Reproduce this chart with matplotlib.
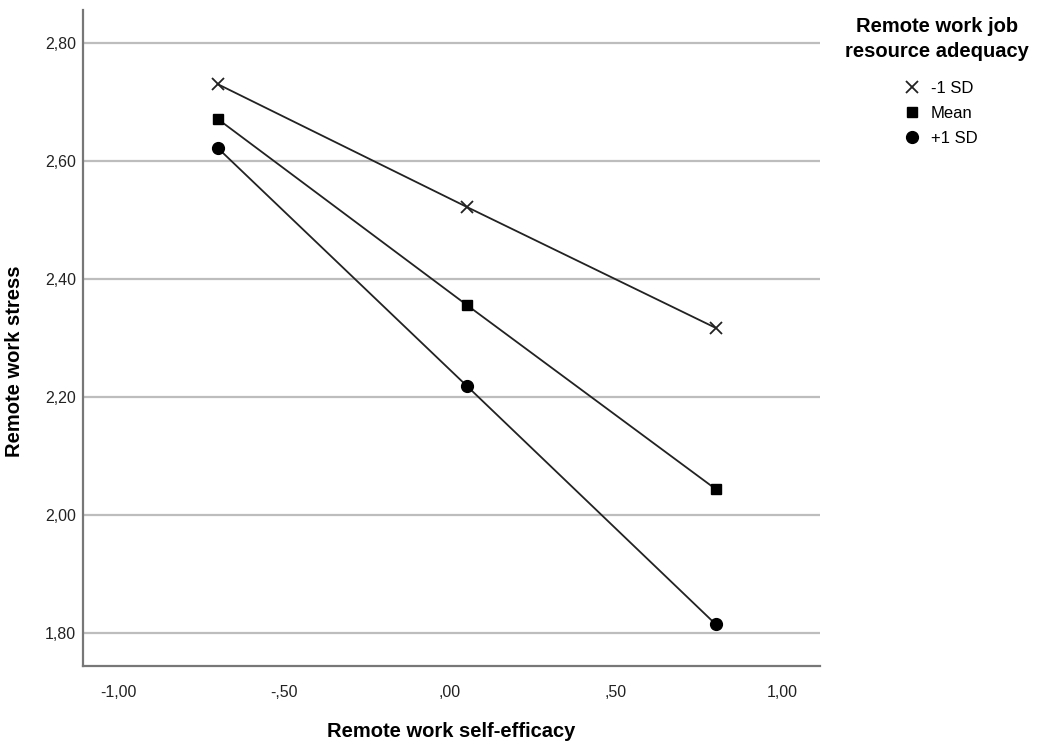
import matplotlib.pyplot as plt
from matplotlib.ticker import FuncFormatter

# data
self_efficacy = [-0.70, 0.05, 0.80]
stress_low = [2.730, 2.522, 2.317]    # -1 SD
stress_mean = [2.671, 2.356, 2.044]   # Mean
stress_high = [2.622, 2.219, 1.815]   # +1 SD

x_ticks = [-1.0, -0.5, 0.0, 0.5, 1.0]
y_ticks = [1.8, 2.0, 2.2, 2.4, 2.6, 2.8]

plt.rcParams["font.family"] = ["Liberation Sans", "DejaVu Sans"]

fig = plt.figure(figsize=(10.39, 7.45), dpi=100)
ax = fig.add_axes([0.080, 0.106, 0.709, 0.881])


def spss_fmt(v, pos):
    s = f"{v:.2f}".replace(".", ",")
    if s.startswith("0,"):
        s = s[1:]
    elif s.startswith("-0,"):
        s = "-" + s[2:]
    return s


ax.plot(self_efficacy, stress_low, color="#222222", lw=1.3, marker="x",
        markersize=8, markeredgewidth=1.3, label="-1 SD", zorder=3)
ax.plot(self_efficacy, stress_mean, color="#222222", lw=1.3, marker="s",
        markersize=7, markerfacecolor="black", markeredgecolor="black", label="Mean", zorder=3)
ax.plot(self_efficacy, stress_high, color="#222222", lw=1.3, marker="o",
        markersize=8.5, markerfacecolor="black", markeredgecolor="black", label="+1 SD", zorder=3)

ax.set_xlim(-1.105, 1.114)
ax.set_ylim(1.744, 2.856)
ax.set_xticks(x_ticks)
ax.set_yticks(y_ticks)
ax.xaxis.set_major_formatter(FuncFormatter(spss_fmt))
ax.yaxis.set_major_formatter(FuncFormatter(spss_fmt))
ax.tick_params(length=0, labelsize=11.5, pad=5, colors="#222222")
ax.tick_params(axis="x", pad=14)

ax.grid(axis="y", color="#bdbdbd", lw=1.6)
ax.set_axisbelow(True)
for side in ["top", "right"]:
    ax.spines[side].set_visible(False)
for side in ["left", "bottom"]:
    ax.spines[side].set_color("#777777")
    ax.spines[side].set_linewidth(1.6)

ax.set_xlabel("Remote work self-efficacy", fontsize=14.5, fontweight="bold")
ax.xaxis.set_label_coords(0.50, -0.085)
ax.set_ylabel("Remote work stress", fontsize=14.5, fontweight="bold")
ax.yaxis.set_label_coords(-0.080, 0.464)

# legend title drawn separately so it is centred above the entries
fig.text(0.902, 0.948, "Remote work job\nresource adequacy", ha="center", va="center",
         fontsize=14.5, fontweight="bold", linespacing=1.42)
leg = fig.legend(loc="upper left", bbox_to_anchor=(0.870, 0.891), frameon=False,
                 fontsize=12, borderpad=0, borderaxespad=0,
                 handlelength=1.0, handletextpad=0.6, labelspacing=0.6)
for h in leg.legend_handles:
    h.set_linestyle("None")

fig.savefig("out.png", dpi=100)
